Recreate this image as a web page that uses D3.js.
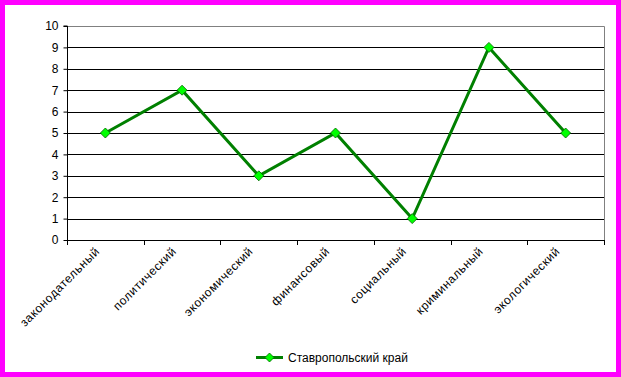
<!DOCTYPE html>
<html><head><meta charset="utf-8">
<script src="https://cdn.jsdelivr.net/npm/d3@7"></script>
<style>html,body{margin:0;padding:0;background:#fff;}svg{display:block;}</style>
</head><body>
<script>
const categories = ["законодательный","политический","экономический","финансовый","социальный","криминальный","экологический"];
const values = [5,7,3,5,1,9,5];
const yTicks = [0,1,2,3,4,5,6,7,8,9,10];
const seriesName = "Ставропольский край";

const W = 621, H = 377;
const svg = d3.select("body").append("svg").attr("width", W).attr("height", H);
svg.append("rect").attr("x",2.5).attr("y",2.5).attr("width",W-5).attr("height",H-5)
  .attr("fill","#fff").attr("stroke","#ff00ff").attr("stroke-width",5);

const L = 67, R = 604, T = 26, B = 240;
const x = d3.scaleBand().domain(categories).range([L,R]);
const y = d3.scaleLinear().domain([0,10]).range([B,T]);

const g = svg.append("g").attr("font-family","Liberation Sans, Arial, sans-serif");
// gridlines
g.selectAll("line.grid").data(yTicks.filter(v=>v>0 && v<10)).join("line")
  .attr("x1",L).attr("x2",R).attr("y1",d=>Math.round(y(d))+0.5).attr("y2",d=>Math.round(y(d))+0.5)
  .attr("stroke","#000").attr("stroke-width",1);
// plot border top/right gray
g.append("path").attr("d",`M${L},${T+0.5}H${R+0.5}V${B}`).attr("fill","none").attr("stroke","#808080").attr("stroke-width",1);

// y axis
const yAxis = g.append("g").attr("transform",`translate(${L+0.5},0)`)
  .call(d3.axisLeft(y).tickValues(yTicks).tickSize(4).tickPadding(5));
yAxis.select(".domain").attr("stroke","#000").attr("d",`M-4,${T}H0V${B}`);
yAxis.selectAll("text").attr("font-size",12).attr("font-family","Liberation Sans, Arial, sans-serif").attr("fill","#000");
yAxis.selectAll("line").attr("stroke","#000");

// x axis
const tickPos = categories.map(c=>x(c)).concat([R]);
const xg = g.append("g");
xg.append("line").attr("x1",L).attr("x2",R+1).attr("y1",B+0.5).attr("y2",B+0.5).attr("stroke","#000");
xg.selectAll("line.t").data(tickPos).join("line").attr("class","t")
  .attr("x1",d=>Math.round(d)+0.5).attr("x2",d=>Math.round(d)+0.5).attr("y1",B).attr("y2",B+5).attr("stroke","#000");
xg.selectAll("text").data(categories).join("text")
  .attr("transform",d=>`translate(${x(d)+x.bandwidth()/2-5},${B+12}) rotate(-45)`)
  .attr("text-anchor","end").attr("font-size",12).attr("letter-spacing","0.6px").attr("fill","#000").text(d=>d);

// line
const cx = (d,i)=>x(categories[i])+x.bandwidth()/2;
const line = d3.line().x((d,i)=>cx(d,i)).y(d=>y(d));
g.append("path").datum(values).attr("d",line).attr("fill","none").attr("stroke","#008000").attr("stroke-width",3);
const diamond = s=>`M0,${-s}L${s},0L0,${s}L${-s},0Z`;
g.selectAll("path.m").data(values).join("path").attr("class","m")
  .attr("transform",(d,i)=>`translate(${cx(d,i)},${y(d)})`).attr("d",diamond(5))
  .attr("fill","#00ff00").attr("stroke","#006000").attr("stroke-width",0.8);

// legend
const lg = g.append("g");
lg.append("line").attr("x1",256).attr("x2",283).attr("y1",357.5).attr("y2",357.5).attr("stroke","#008000").attr("stroke-width",3);
lg.append("path").attr("transform","translate(269.5,357.5)").attr("d",diamond(4.5)).attr("fill","#00ff00").attr("stroke","#006000").attr("stroke-width",0.8);
lg.append("text").attr("x",288).attr("y",362).attr("font-size",12).attr("fill","#000").text(seriesName);
</script>
</body></html>
